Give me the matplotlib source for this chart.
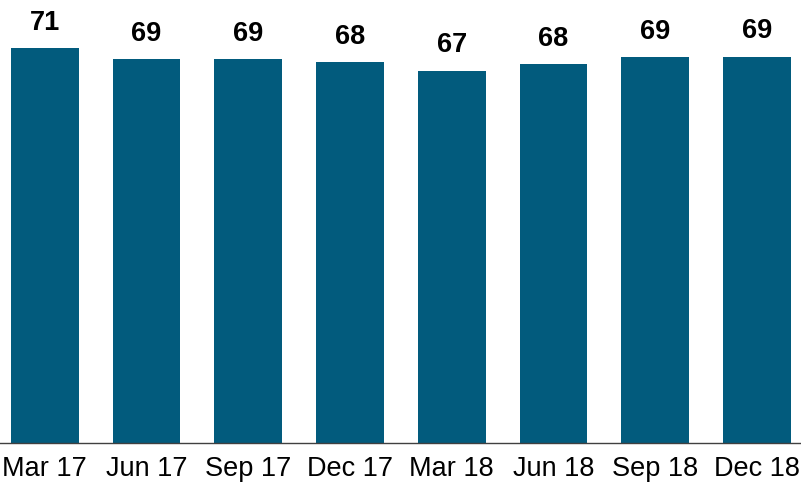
import matplotlib
matplotlib.use("Agg")
import matplotlib.pyplot as plt

categories = ["Mar 17", "Jun 17", "Sep 17", "Dec 17", "Mar 18", "Jun 18", "Sep 18", "Dec 18"]
values = [70.6, 68.6, 68.6, 68.1, 66.6, 67.7, 69.0, 69.1]
labels = ["71", "69", "69", "68", "67", "68", "69", "69"]

plt.rcParams['font.family'] = ['Liberation Sans', 'DejaVu Sans']

fig = plt.figure(figsize=(8.01, 4.82), dpi=100)
ax = fig.add_axes([0, 38.7 / 482, 1, 443.3 / 482])

x = list(range(len(categories)))
bars = ax.bar(x, values, width=0.667, color="#025b7d")

for xi, v, lab in zip(x, values, labels):
    ax.annotate(lab, (xi, v), xytext=(0, 13), textcoords="offset points",
                ha="center", va="baseline", fontsize=19.5, fontweight="bold",
                color="black")

ax.set_xlim(-0.439, 7.432)
ax.set_ylim(0, 79.2)
ax.set_xticks(x)
ax.set_xticklabels(categories, fontsize=19.5, color="black")
ax.tick_params(axis="x", length=0, pad=9)
ax.set_yticks([])
for s in ["top", "left", "right"]:
    ax.spines[s].set_visible(False)
ax.spines["bottom"].set_color("#404040")
ax.spines["bottom"].set_linewidth(1.0)

fig.savefig("out.png", dpi=100)
